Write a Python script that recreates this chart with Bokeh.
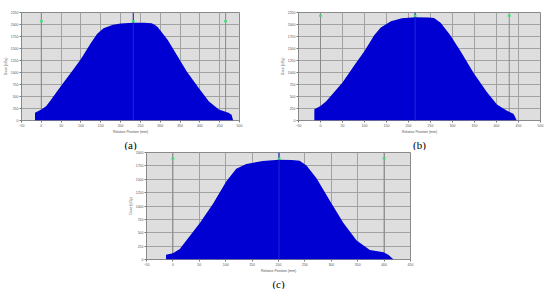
from bokeh.plotting import figure
from bokeh.layouts import column, row
from bokeh.models import Range1d, FixedTicker, Title, Spacer
from bokeh.embed import file_html
from bokeh.resources import INLINE

# ---- data ----
a_pos = [-16, -16, 0, 12, 24, 50, 77, 100, 125, 141, 157, 181, 200, 232, 260, 278, 286, 294, 319, 343, 367, 399, 423, 448, 472, 480, 484]
a_dose = [0, 164, 230, 296, 428, 724, 1020, 1283, 1612, 1809, 1921, 1993, 2020, 2039, 2036, 2026, 1995, 1941, 1678, 1349, 1020, 658, 395, 230, 164, 120, 0]
a_marks = [0, 232, 465]
a_mark_dose = [2066, 2066, 2066]

b_pos = [-14, -14, 0, 13, 50, 77, 100, 122, 137, 160, 185, 215, 245, 258, 273, 295, 318, 348, 378, 401, 424, 439, 446]
b_dose = [0, 235, 301, 400, 792, 1152, 1446, 1774, 1937, 2068, 2130, 2153, 2148, 2133, 2035, 1774, 1446, 988, 596, 334, 203, 137, 0]
b_marks = [0, 215, 429]
b_mark_dose = [2180, 2180, 2180]

c_pos = [-13, -13, 0, 13, 51, 76, 101, 120, 139, 170, 201, 225, 240, 253, 272, 297, 323, 348, 373, 399, 408, 418]
c_dose = [0, 89, 119, 196, 684, 1042, 1458, 1696, 1786, 1840, 1863, 1858, 1845, 1756, 1518, 1101, 684, 357, 179, 137, 89, 0]
c_marks = [0, 201, 400]
c_mark_dose = [1887, 1887, 1887]

x_ticks_ab = [-50, 0, 50, 100, 150, 200, 250, 300, 350, 400, 450, 500]
x_ticks_c = [-50, 0, 50, 100, 150, 200, 250, 300, 350, 400, 450]
y_ticks_ab = [0, 250, 500, 750, 1000, 1250, 1500, 1750, 2000, 2250]
y_ticks_c = [0, 250, 500, 750, 1000, 1250, 1500, 1750, 2000]

x_label = "Relative Position (mm)"
y_label = "Dose (cGy)"
captions = ["(a)", "(b)", "(c)"]

BLUE = "#0000d2"


def panel(pos, dose, marks, mark_dose, xticks, yticks, caption, width, height,
          left, right, top, bottom):
    p = figure(width=width, height=height,
               x_range=Range1d(xticks[0], xticks[-1]),
               y_range=Range1d(yticks[0], yticks[-1]),
               output_backend="svg", toolbar_location=None,
               min_border_left=left, min_border_right=right,
               min_border_top=top, min_border_bottom=bottom,
               background_fill_color="#dedede", border_fill_color="white")
    p.xaxis.ticker = FixedTicker(ticks=xticks)
    p.yaxis.ticker = FixedTicker(ticks=yticks)
    for ax in (p.xaxis[0], p.yaxis[0]):
        ax.major_label_text_font_size = "3.5px"
        ax.major_label_text_color = "#555555"
        ax.major_label_standoff = 1
        ax.major_tick_out = 2
        ax.major_tick_in = 0
        ax.minor_tick_out = 0
        ax.minor_tick_in = 0
        ax.major_tick_line_color = "#777777"
        ax.axis_line_color = None
        ax.axis_label_text_font_size = "3.5px"
        ax.axis_label_text_font_style = "normal"
        ax.axis_label_text_color = "#555555"
        ax.axis_label_standoff = 0
    p.xaxis.axis_label = x_label
    p.yaxis.axis_label = y_label
    p.grid.grid_line_color = "#a2a2a2"
    p.grid.grid_line_width = 1
    p.outline_line_color = "#8a8a8a"
    p.segment(x0=marks, x1=marks, y0=yticks[0], y1=yticks[-1],
              line_color="#8a8a8a", line_width=1)
    p.varea(x=pos, y1=0, y2=dose, fill_color=BLUE)
    p.segment(x0=marks[1:2], x1=marks[1:2], y0=yticks[0], y1=yticks[-1],
              line_color="#1c2ad6", line_width=1)
    p.rect(x=marks, y=mark_dose, width=3, height=2, width_units="screen",
           height_units="screen", fill_color="#3ee07a", line_color=None)
    p.add_layout(Title(text=caption, align="center", text_font="Liberation Serif",
                       text_font_size="11px", text_font_style="normal",
                       text_color="black", standoff=0), "below")
    return p


pa = panel(a_pos, a_dose, a_marks, a_mark_dose, x_ticks_ab, y_ticks_ab, captions[0],
           275, 150, 11, 36, 12, 0)
pb = panel(b_pos, b_dose, b_marks, b_mark_dose, x_ticks_ab, y_ticks_ab, captions[1],
           275, 150, 23, 10, 12, 0)
pc = panel(c_pos, c_dose, c_marks, c_mark_dose, x_ticks_c, y_ticks_c, captions[2],
           289, 139, 11, 4, 2, 0)

layout = column(row(pa, pb), row(Spacer(width=125, height=139), pc), spacing=0)

open("out.html", "w").write(file_html(layout, INLINE))
